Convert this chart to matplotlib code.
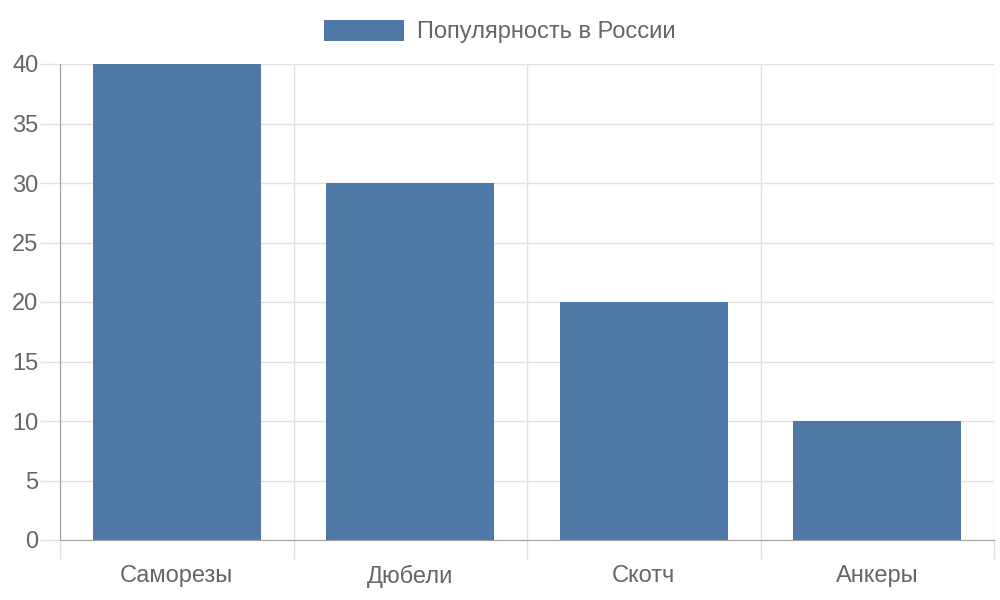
import matplotlib
matplotlib.use("Agg")
import matplotlib.pyplot as plt
from matplotlib.patches import Patch

categories = ["Саморезы", "Дюбели", "Скотч", "Анкеры"]
values = [40, 30, 20, 10]
series_name = "Популярность в России"
y_ticks = [0, 5, 10, 15, 20, 25, 30, 35, 40]

plt.rcParams['font.family'] = ['Liberation Sans', 'DejaVu Sans']
text_color = "#666666"
bar_color = "#4e79a7"
grid_color = "#e1e1e1"
axis_color = "#a0a0a0"

fig = plt.figure(figsize=(10, 6), dpi=100)
W, H = 1000, 600
x0, x1, ytop, ybot = 60, 994, 64, 540
ax = fig.add_axes([x0 / W, 1 - ybot / H, (x1 - x0) / W, (ybot - ytop) / H])

n = len(categories)
xs = list(range(n))
ax.bar(xs, values, width=0.72, color=bar_color, zorder=3)
ax.set_xlim(-0.5, n - 0.5)
ax.set_ylim(0, 40)

# grid
for y in y_ticks:
    ax.axhline(y, color=grid_color, lw=1, zorder=1)
for i in range(n + 1):
    ax.axvline(i - 0.5, color=grid_color, lw=1, zorder=1)

for s in ["top", "right"]:
    ax.spines[s].set_visible(False)
ax.spines["left"].set_color(axis_color)
ax.spines["bottom"].set_color(axis_color)
ax.spines["left"].set_zorder(4)
ax.spines["bottom"].set_zorder(4)

ax.set_yticks(y_ticks)
ax.set_yticklabels([str(v) for v in y_ticks])
ax.tick_params(axis="y", length=14.5, width=1, color=grid_color, pad=1,
               labelsize=17, labelcolor=text_color)
ax.get_yticklines()[0].set_color(axis_color)
# x ticks at category boundaries, labels at centers
ax.set_xticks([i - 0.5 for i in range(n + 1)])
ax.set_xticklabels([""] * (n + 1))
ax.tick_params(axis="x", which="major", length=14, width=1, color=grid_color)
ax.set_xticks(xs, minor=True)
ax.set_xticklabels(categories, minor=True)
ax.tick_params(axis="x", which="minor", length=0, pad=18, labelsize=17,
               labelcolor=text_color)
# leftmost x tick darker (continues the axis)
ax.get_xticklines()[0].set_color(axis_color)

leg = fig.legend(handles=[Patch(facecolor=bar_color, label=series_name)],
                 loc="center", bbox_to_anchor=(0.5, 1 - 31.5 / H),
                 frameon=False, fontsize=17, labelcolor=text_color,
                 handlelength=3.39, handleheight=0.98, handletextpad=0.55)

fig.savefig("out.png", dpi=100)
